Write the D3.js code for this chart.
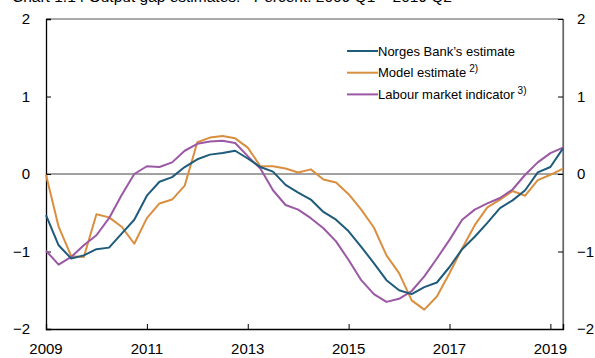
<!DOCTYPE html>
<html><head><meta charset="utf-8">
<script src="https://cdn.jsdelivr.net/npm/d3@7"></script>
<style>body{margin:0;background:#fff}svg{display:block}text{font-family:"Liberation Sans",Arial,sans-serif;fill:#000}</style>
</head><body><svg id="c" width="595" height="358"></svg>
<script>
const startYear = 2009;
const yTicks = [-2, -1, 0, 1, 2];
const xTickYears = [2009, 2011, 2013, 2015, 2017, 2019];
const seriesNames = ["Norges Bank\u2019s estimate", "Model estimate", "Labour market indicator"];
const seriesNotes = ["", "2)", "3)"];
const norgesBank = [-0.53,-0.92,-1.09,-1.05,-0.97,-0.95,-0.77,-0.59,-0.28,-0.10,-0.04,0.09,0.19,0.25,0.27,0.30,0.20,0.09,0.03,-0.14,-0.24,-0.33,-0.49,-0.59,-0.74,-0.94,-1.15,-1.37,-1.50,-1.55,-1.46,-1.40,-1.20,-0.97,-0.81,-0.63,-0.44,-0.34,-0.21,0.02,0.09,0.33];
const modelEst = [-0.01,-0.68,-1.06,-1.07,-0.52,-0.56,-0.68,-0.90,-0.57,-0.38,-0.33,-0.15,0.41,0.47,0.49,0.46,0.34,0.10,0.10,0.07,0.02,0.06,-0.07,-0.11,-0.26,-0.46,-0.69,-1.05,-1.28,-1.63,-1.75,-1.58,-1.28,-0.96,-0.66,-0.43,-0.33,-0.22,-0.28,-0.08,-0.01,0.07];
const labour = [-0.99,-1.17,-1.07,-0.92,-0.79,-0.57,-0.27,0.00,0.10,0.09,0.15,0.30,0.39,0.42,0.43,0.40,0.23,0.07,-0.21,-0.40,-0.46,-0.57,-0.70,-0.87,-1.11,-1.37,-1.55,-1.65,-1.61,-1.51,-1.32,-1.09,-0.85,-0.59,-0.46,-0.38,-0.31,-0.20,-0.01,0.15,0.27,0.34];
const colors = ["#1f5b7b", "#d98f3f", "#9b58a5"];

const svg = d3.select("#c");
const L = 46, R = 563, T = 19, B = 329;
const x = d3.scaleLinear().domain([startYear, startYear + 10.25]).range([L, R]);
const y = d3.scaleLinear().domain([-2, 2]).range([B, T]);

// title (clipped at top as in reference)
svg.append("text").attr("x", 12).attr("y", 2).attr("font-size", 15.5)
  .text("Chart 1.14 Output gap estimates.\u00B9\u207E Percent. 2009 Q1 \u2013 2019 Q2");

// zero line
svg.append("line").attr("x1", L).attr("x2", R).attr("y1", y(0)).attr("y2", y(0))
  .attr("stroke", "#444").attr("stroke-width", 1.2);

// frame
svg.append("line").attr("x1", L).attr("x2", R).attr("y1", T).attr("y2", T).attr("stroke", "#555").attr("stroke-width", 1.2);
svg.append("line").attr("x1", R).attr("x2", R).attr("y1", T).attr("y2", B).attr("stroke", "#666").attr("stroke-width", 1.2);

// axes with inward ticks
const leftAxis = svg.append("g").attr("transform", `translate(${L},0)`)
  .call(d3.axisRight(y).tickValues(yTicks).tickSize(5).tickFormat(""));
const rightAxis = svg.append("g").attr("transform", `translate(${R},0)`)
  .call(d3.axisLeft(y).tickValues(yTicks).tickSize(5).tickFormat(""));
const bottomAxis = svg.append("g").attr("transform", `translate(0,${B})`)
  .call(d3.axisTop(x).tickValues(xTickYears.filter(d => d > startYear)).tickSize(5).tickFormat(""));
[leftAxis, bottomAxis].forEach(g => { g.select(".domain").attr("stroke", "#000").attr("stroke-width", 1.3); g.selectAll(".tick line").attr("stroke", "#000"); });
rightAxis.select(".domain").attr("stroke", "#666").attr("stroke-width", 1.2);
rightAxis.selectAll(".tick line").attr("stroke", "#000");

const fmt = d => d < 0 ? "\u2212" + Math.abs(d) : String(d);
yTicks.forEach(v => {
  svg.append("text").attr("x", 30).attr("y", y(v)).attr("dy", "0.36em").attr("text-anchor", "end").attr("font-size", 15).text(fmt(v));
  svg.append("text").attr("x", 577).attr("y", y(v)).attr("dy", "0.36em").attr("text-anchor", "start").attr("font-size", 15).text(fmt(v));
});
xTickYears.forEach(yr => {
  svg.append("text").attr("x", x(yr)).attr("y", 354).attr("text-anchor", "middle").attr("font-size", 15).text(yr);
});

// lines
const all = [norgesBank, modelEst, labour];
const line = d3.line().x((d, i) => x(startYear + i * 0.25)).y(d => y(d));
[1, 2, 0].forEach(k => {
  svg.append("path").datum(all[k]).attr("d", line).attr("fill", "none")
    .attr("stroke", colors[k]).attr("stroke-width", 2).attr("stroke-linejoin", "round");
});

// legend
seriesNames.forEach((name, k) => {
  const ly = 51 + k * 21.7;
  svg.append("line").attr("x1", 347).attr("x2", 378).attr("y1", ly).attr("y2", ly).attr("stroke", colors[k]).attr("stroke-width", 2);
  const t = svg.append("text").attr("x", 378).attr("y", ly).attr("dy", "0.36em").attr("font-size", 13).text(name);
  if (seriesNotes[k]) t.append("tspan").attr("dx", 3).attr("dy", -5).attr("font-size", 10).text(seriesNotes[k]);
});
</script></body></html>
